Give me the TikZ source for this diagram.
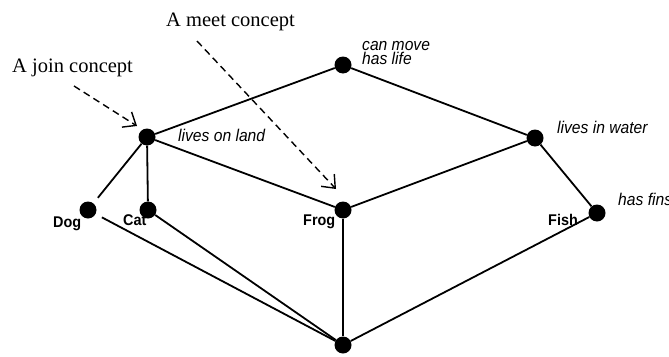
\documentclass[tikz,border=0pt]{standalone}
\usepackage{fontspec}
\setmainfont{Liberation Serif}
\newfontfamily\labfont{Liberation Sans}
\usetikzlibrary{arrows.meta}

% narrowed sans labels
\newcommand{\attrtext}[1]{\scalebox{0.92}[1]{\labfont\itshape\fontsize{17}{17}\selectfont #1}}
\newcommand{\objtext}[1]{\scalebox{0.93}[1]{\labfont\bfseries\fontsize{15.5}{15.5}\selectfont #1}}

\tikzset{
  concept/.style={circle, fill=black, inner sep=0pt, minimum size=17pt},
  edge/.style={line width=1.8pt},
  attr/.style={anchor=base west, inner sep=0pt},
  obj/.style={anchor=base west, inner sep=0pt},
  note/.style={anchor=base west, inner sep=0pt, font=\fontsize{20.5}{20.5}\selectfont},
  pointer/.style={line width=1.4pt, dash pattern=on 7pt off 4.5pt,
    -{Straight Barb[length=11pt, width=18pt, line width=1.4pt]}}
}

\begin{document}
\begin{tikzpicture}[x=1pt, y=-1pt]
  \useasboundingbox (0,0) rectangle (669,356);
  \fill[white] (0,0) rectangle (669,356);

  % concept nodes of the lattice
  \node[concept] (top)   at (343,65)  {};
  \node[concept] (land)  at (147,137) {};
  \node[concept] (water) at (535,138) {};
  \node[concept] (dog)   at (88,210)  {};
  \node[concept] (cat)   at (148,210) {};
  \node[concept] (frog)  at (343,210) {};
  \node[concept] (fish)  at (597,213) {};
  \node[concept] (bot)   at (343,345) {};

  % lattice order
  \draw[edge] (top) -- (land);
  \draw[edge] (top) -- (water);
  \draw[edge, shorten <=7pt] (dog) -- (land);
  \draw[edge] (land) -- (cat);
  \draw[edge] (land) -- (frog);
  \draw[edge] (water) -- (frog);
  \draw[edge] (water) -- (fish);
  \draw[edge, shorten <=7pt] (dog) -- (bot);
  \draw[edge] (cat) -- (bot);
  \draw[edge] (frog) -- (bot);
  \draw[edge] (fish) -- (bot);

  % attribute labels (two-line label sits on the baseline of its last line)
  \node[attr] (ltop) at (362,64)
    {\shortstack[l]{\attrtext{can move}\\[-2.3pt]\attrtext{has life}}};
  \node[attr] (lland) at (178,141) {\attrtext{lives on land}};
  \node[attr] (lwat)  at (557,133) {\attrtext{lives in water}};
  \node[attr] (lfins) at (618,205) {\attrtext{has fins}};

  % object labels
  \node[obj] (ldog)  at (53,227)  {\objtext{Dog}};
  \node[obj] (lcat)  at (123,225) {\objtext{Cat}};
  \node[obj] (lfrog) at (303,225) {\objtext{Frog}};
  \node[obj] (lfish) at (548,225) {\objtext{Fish}};

  % annotations
  \node[note] (meet) at (166,26) {A meet concept};
  \node[note] (join) at (12,72)  {A join concept};

  \coordinate (joinS) at (74,86);
  \coordinate (joinT) at (137,126);
  \coordinate (meetS) at (197,41);
  \coordinate (meetT) at (336,189);
  \draw[pointer] (joinS) -- (joinT);
  \draw[pointer] (meetS) -- (meetT);
\end{tikzpicture}
\end{document}
